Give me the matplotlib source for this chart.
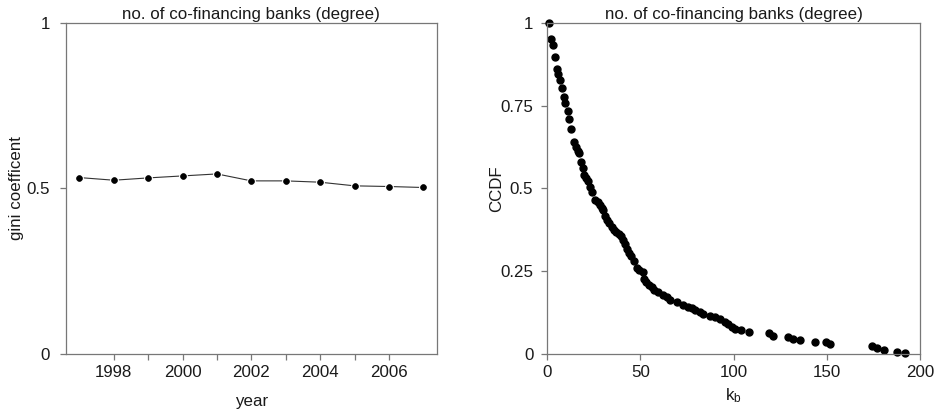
import numpy as np
import matplotlib
matplotlib.use('Agg')
import matplotlib.pyplot as plt

plt.rcParams['font.family'] = ['Liberation Sans', 'DejaVu Sans']

# gini coefficient per year
years = [1997, 1998, 1999, 2000, 2001, 2002, 2003, 2004, 2005, 2006, 2007]
gini = [0.533, 0.525, 0.532, 0.538, 0.544, 0.523, 0.523, 0.519, 0.508, 0.506, 0.503]

# CCDF of number of co-financing banks
kb = [1, 2, 3.1, 4, 5, 5.9, 6.8, 7.9, 8.8, 9.7, 10.9, 11.8, 12.8,
      14.3, 15.4, 16.3, 17.2, 18.1, 19.0, 19.9, 20.8, 21.7, 22.9, 24.0,
      25.8, 27.0, 28.3, 29.2, 30.1, 31.1, 32.2, 33.3, 34.6, 35.8, 37.0, 38.3,
      39.6, 40.8, 41.7, 42.9, 44.0, 44.9, 46.7, 48.0, 49.4, 51.2, 51.9,
      53.0, 54.6, 56.0, 57.4, 59.2, 62.2, 64.1, 65.8, 69.8, 73.0, 75.7,
      77.5, 79.3, 81.9, 83.7, 87.3, 90.0, 92.7, 95.4, 97.1, 99.0, 100.7,
      103.9, 108.2, 119.1, 121.0, 129.0, 132.0, 135.8, 144.0, 149.6,
      151.7, 174.1, 176.8, 180.7, 188.0, 191.9]
ccdf = [1.0, 0.953, 0.935, 0.897, 0.860, 0.846, 0.829, 0.803, 0.776, 0.758,
        0.733, 0.711, 0.681, 0.640, 0.624, 0.613, 0.606, 0.580, 0.563,
        0.542, 0.532, 0.522, 0.503, 0.489, 0.466, 0.459, 0.450, 0.442,
        0.435, 0.416, 0.405, 0.395, 0.385, 0.374, 0.368, 0.362, 0.355,
        0.345, 0.331, 0.316, 0.306, 0.297, 0.282, 0.261, 0.253, 0.248,
        0.227, 0.218, 0.208, 0.202, 0.193, 0.188, 0.178, 0.171, 0.163,
        0.156, 0.148, 0.143, 0.138, 0.133, 0.126, 0.120, 0.116, 0.111,
        0.105, 0.098, 0.090, 0.083, 0.076, 0.073, 0.067, 0.064, 0.055,
        0.050, 0.046, 0.041, 0.037, 0.035, 0.029, 0.025, 0.019, 0.012,
        0.007, 0.004]

title = 'no. of co-financing banks (degree)'
gc = '#777777'
fs = 12.2

fig = plt.figure(figsize=(9.36, 4.15), dpi=100)
ax1 = fig.add_axes([0.0702, 0.147, 0.3967, 0.7976])
ax2 = fig.add_axes([0.5847, 0.147, 0.398, 0.7976])

for ax in (ax1, ax2):
    for s in ax.spines.values():
        s.set_color(gc)
        s.set_linewidth(0.9)
    ax.tick_params(direction='out', length=4.5, width=0.9, color=gc,
                   labelsize=fs, labelcolor='#1a1a1a')
    ax.tick_params(axis='x', pad=3.5)
    ax.set_title(title, fontsize=fs, pad=3, color='#1a1a1a')

# left: gini over time
ax1.plot(years, gini, color='#333333', lw=0.8, zorder=2)
ax1.plot(years, gini, 'o', ms=4.2, color='black', mec='white', mew=2.2, zorder=3)
ax1.plot(years, gini, 'o', ms=4.2, color='black', mec='black', mew=0.5, zorder=4)
ax1.set_xlim(1996.6, 2007.4)
ax1.set_ylim(0, 1)
ax1.set_xticks(range(1998, 2007))
ax1.set_xticklabels([str(y) if y % 2 == 0 else '' for y in range(1998, 2007)])
ax1.set_yticks([0, 0.5, 1])
ax1.set_yticklabels(['0', '0.5', '1'])
ax1.tick_params(axis='y', pad=6.8)
ax1.set_xlabel('year', fontsize=fs, labelpad=10, color='#1a1a1a')
ax1.set_ylabel('gini coefficent', fontsize=fs, color='#1a1a1a')
ax1.yaxis.set_label_coords(-0.112, 0.5)

# right: CCDF
ax2.plot(kb, ccdf, 'o', ms=5, color='black', clip_on=False)
ax2.set_xlim(0, 200)
ax2.set_ylim(0, 1)
ax2.set_xticks([0, 50, 100, 150, 200])
ax2.set_yticks([0, 0.25, 0.5, 0.75, 1])
ax2.set_yticklabels(['0', '0.25', '0.5', '0.75', '1'])
ax2.tick_params(axis='y', pad=5.6)
ax2.set_xlabel(r'$\mathregular{k_b}$', fontsize=fs, labelpad=4.5, color='#1a1a1a')
ax2.set_ylabel('CCDF', fontsize=fs, color='#1a1a1a')
ax2.yaxis.set_label_coords(-0.117, 0.5)

fig.savefig('out.png', dpi=100)
